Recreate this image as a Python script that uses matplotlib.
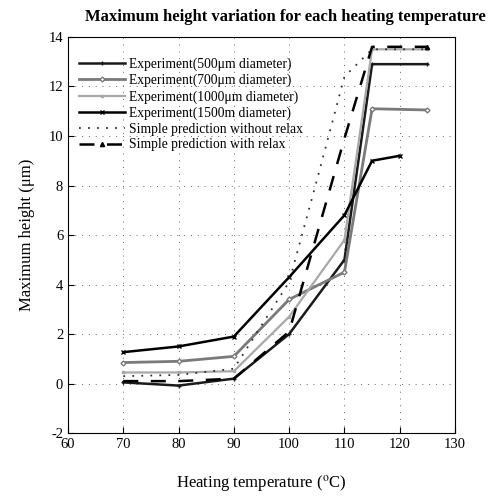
import matplotlib
matplotlib.use("Agg")
import matplotlib.pyplot as plt

plt.rcParams["font.family"] = ["Liberation Serif", "DejaVu Serif"]
plt.rcParams["mathtext.fontset"] = "stix"
plt.rcParams["axes.unicode_minus"] = False

# heating temperatures (deg C) and measured / predicted max heights (um)
temp_exp = [70, 80, 90, 100, 110, 115, 125]
temp_1500 = [70, 80, 90, 100, 110, 115, 120]
temp_pred = [70, 80, 90, 100, 105, 110, 115, 125]
temp_relax = [70, 80, 90, 100, 110, 115, 125]

h_500 = [0.05, -0.08, 0.2, 2.0, 5.0, 12.9, 12.9]
h_700 = [0.85, 0.9, 1.1, 3.4, 4.5, 11.1, 11.05]
h_1000 = [0.45, 0.45, 0.5, 2.7, 5.8, 13.5, 13.5]
h_1500 = [1.27, 1.5, 1.9, 4.3, 6.8, 9.0, 9.2]
h_pred = [0.3, 0.35, 0.6, 4.1, 8.2, 12.4, 13.5, 13.5]
h_relax = [0.1, 0.1, 0.2, 2.1, 9.9, 13.6, 13.6]

labels = [
    "Experiment(500\u03bcm diameter)",
    "Experiment(700\u03bcm diameter)",
    "Experiment(1000\u03bcm diameter)",
    "Experiment(1500m diameter)",
    "Simple prediction without relax",
    "Simple prediction with relax",
]

fig = plt.figure(figsize=(5, 4.99), dpi=100)
ax = fig.add_axes([0.136, 0.132, 0.774, 0.794])

ax.plot(temp_exp, h_500, color="#1a1a1a", lw=1.8, marker="+", ms=3.5, label=labels[0])
ax.plot(temp_exp, h_700, color="#7a7a7a", lw=2.0, marker="D", ms=2.5, mfc="white", label=labels[1])
ax.plot(temp_exp, h_1000, color="#a8a8a8", lw=1.6, marker="s", ms=2, label=labels[2])
ax.plot(temp_1500, h_1500, color="black", lw=1.8, marker="x", ms=3.5, label=labels[3])
ax.plot(temp_pred, h_pred, color="#333333", lw=1.3, ls=(0, (1, 4)), label=labels[4])
ax.plot(temp_relax, h_relax, color="black", lw=1.8, ls=(0, (6, 5)), marker="^", ms=3,
        markevery=[len(temp_relax) - 1], label=labels[5])

ax.set_xlim(60, 130)
ax.set_ylim(-2, 14)
ax.set_xticks(range(60, 131, 10))
ax.set_yticks(range(-2, 15, 2))
ax.tick_params(direction="in", labelsize=10.5, length=4)
ax.grid(True, ls=(0, (1, 6)), color="#666666", lw=0.7)

fig.text(0.571, 0.966, "Maximum height variation for each heating temperature",
         fontsize=12, fontweight="bold", ha="center", va="center")
ax.set_xlabel(r"Heating temperature ($^{\rm o}$C)", fontsize=12, labelpad=16)
ax.set_ylabel("Maximum height (\u03bcm)", fontsize=12, labelpad=10)

ax.legend(loc="upper left", frameon=False, fontsize=9.8, handlelength=3.4,
          labelspacing=0.2, handletextpad=0.3, borderaxespad=0.4,
          bbox_to_anchor=(0.0, 0.975))

fig.savefig("out.png", dpi=100)
